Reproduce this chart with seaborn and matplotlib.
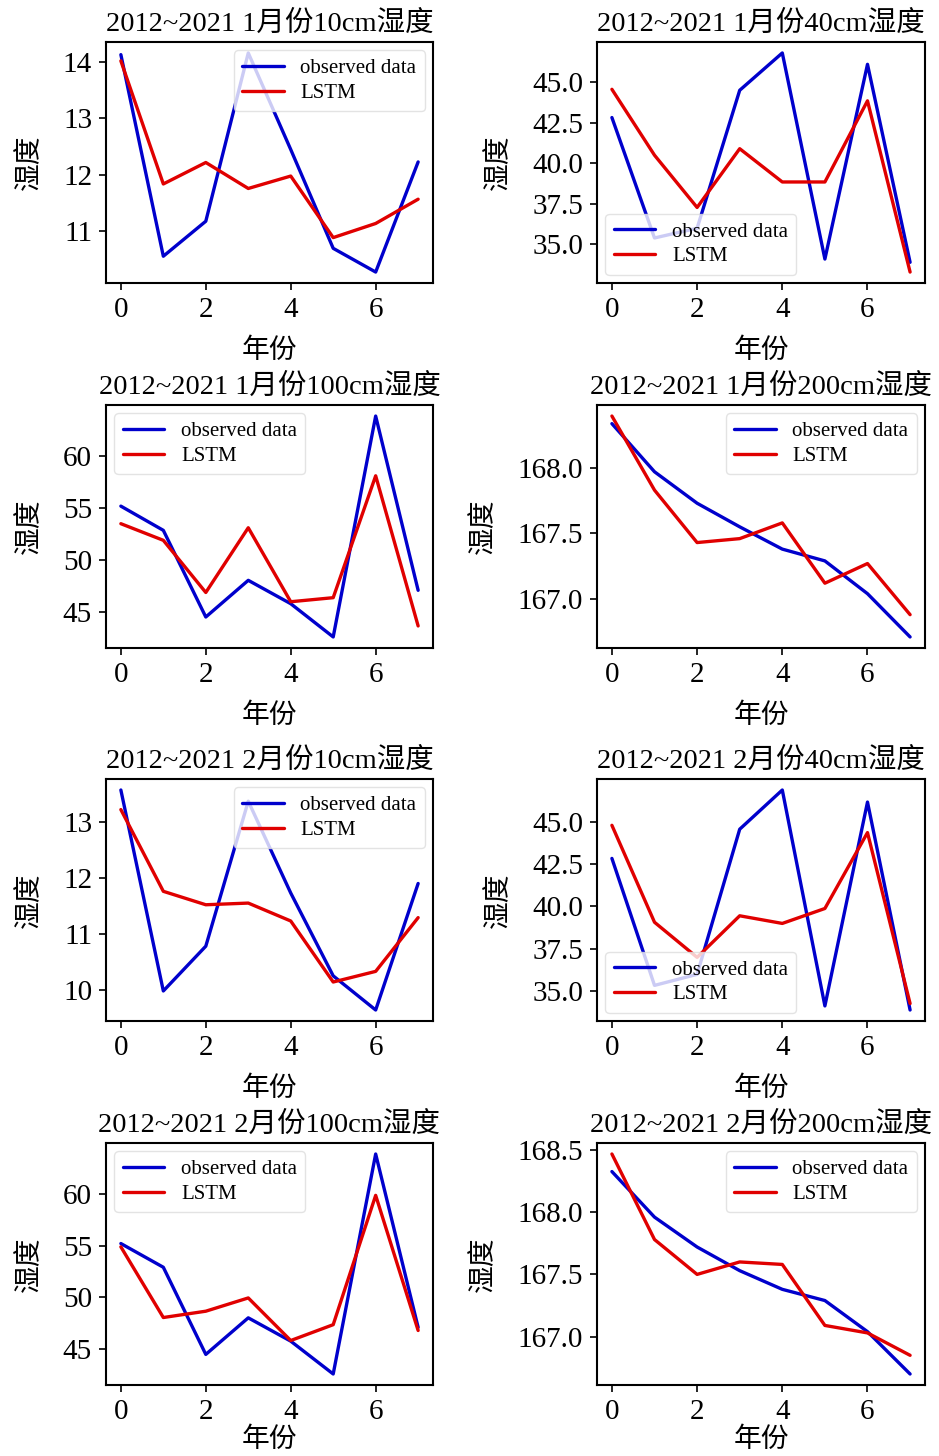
import numpy as np
import pandas as pd
import matplotlib
matplotlib.use("Agg")
import matplotlib.pyplot as plt
import seaborn as sns
from matplotlib.ticker import FormatStrFormatter

# ---------------- data ----------------
years = [0, 1, 2, 3, 4, 5, 6, 7]

titles = [
    "2012~2021 1月份10cm湿度", "2012~2021 1月份40cm湿度",
    "2012~2021 1月份100cm湿度", "2012~2021 1月份200cm湿度",
    "2012~2021 2月份10cm湿度", "2012~2021 2月份40cm湿度",
    "2012~2021 2月份100cm湿度", "2012~2021 2月份200cm湿度",
]

obs_jan_10 = [14.13, 10.56, 11.18, 14.16, 12.45, 10.70, 10.28, 12.23]
lstm_jan_10 = [14.02, 11.84, 12.22, 11.76, 11.98, 10.89, 11.14, 11.57]

obs_jan_40 = [42.82, 35.4, 36.0, 44.5, 46.8, 34.1, 46.1, 33.9]
lstm_jan_40 = [44.56, 40.5, 37.28, 40.9, 38.85, 38.85, 43.85, 33.3]

obs_jan_100 = [55.16, 52.83, 44.49, 48.02, 45.77, 42.57, 63.83, 47.06]
lstm_jan_100 = [53.47, 51.87, 46.85, 53.08, 45.96, 46.35, 58.08, 43.63]

obs_jan_200 = [168.337, 167.97, 167.73, 167.55, 167.38, 167.29, 167.04, 166.71]
lstm_jan_200 = [168.395, 167.83, 167.43, 167.46, 167.58, 167.12, 167.27, 166.88]

obs_feb_10 = [13.57, 9.98, 10.78, 13.37, 11.73, 10.25, 9.64, 11.90]
lstm_feb_10 = [13.22, 11.76, 11.52, 11.55, 11.23, 10.14, 10.33, 11.29]

obs_feb_40 = [42.83, 35.35, 36.0, 44.55, 46.86, 34.14, 46.15, 33.9]
lstm_feb_40 = [44.78, 39.07, 37.0, 39.45, 39.0, 39.88, 44.35, 34.28]

obs_feb_100 = [55.19, 52.9, 44.49, 48.02, 45.77, 42.6, 63.83, 47.1]
lstm_feb_100 = [54.87, 48.05, 48.66, 49.94, 45.83, 47.36, 59.84, 46.8]

obs_feb_200 = [168.326, 167.96, 167.72, 167.53, 167.38, 167.29, 167.04, 166.70]
lstm_feb_200 = [168.467, 167.78, 167.50, 167.60, 167.58, 167.09, 167.03, 166.85]

observed = [obs_jan_10, obs_jan_40, obs_jan_100, obs_jan_200,
            obs_feb_10, obs_feb_40, obs_feb_100, obs_feb_200]
lstm = [lstm_jan_10, lstm_jan_40, lstm_jan_100, lstm_jan_200,
        lstm_feb_10, lstm_feb_40, lstm_feb_100, lstm_feb_200]

xticks = [0, 2, 4, 6]
yticks_10_jan = [11, 12, 13, 14]
yticks_40 = [35.0, 37.5, 40.0, 42.5, 45.0]
yticks_100 = [45, 50, 55, 60]
yticks_200_jan = [167.0, 167.5, 168.0]
yticks_10_feb = [10, 11, 12, 13]
yticks_200_feb = [167.0, 167.5, 168.0, 168.5]
yticks = [yticks_10_jan, yticks_40, yticks_100, yticks_200_jan,
          yticks_10_feb, yticks_40, yticks_100, yticks_200_feb]
yfmt = ["%d", "%.1f", "%d", "%.1f", "%d", "%.1f", "%d", "%.1f"]

series_labels = ["observed data", "LSTM"]
legend_locs = ["upper right", "lower left", "upper left", "upper right",
               "upper right", "lower left", "upper left", "upper right"]
xlabel = "年份"
ylabel = "湿度"

# ---------------- style ----------------
sns.set_theme(style="ticks")
fam = ["Liberation Serif", "Noto Sans CJK SC", "DejaVu Sans"]
plt.rcParams["font.family"] = fam
plt.rcParams["text.color"] = "black"
plt.rcParams["axes.labelcolor"] = "black"
plt.rcParams["axes.edgecolor"] = "black"
plt.rcParams["axes.linewidth"] = 1.5
plt.rcParams["xtick.color"] = "black"
plt.rcParams["ytick.color"] = "black"
plt.rcParams["xtick.major.width"] = 1.2
plt.rcParams["ytick.major.width"] = 1.2
plt.rcParams["xtick.major.size"] = 5
plt.rcParams["ytick.major.size"] = 5

W, H = 939, 1456
fig = plt.figure(figsize=(W / 100, H / 100), dpi=100)

col_lr = [(106, 433), (597, 925)]
row_tb = [(42, 283), (405, 648), (779, 1021), (1143, 1385)]
xlabel_pads = [11, 11, 11, 1.5]

blue = "#0000CC"
red = "#E00000"

for i in range(8):
    r, c = divmod(i, 2)
    l, rr = col_lr[c]
    t, b = row_tb[r]
    ax = fig.add_axes([l / W, 1 - b / H, (rr - l) / W, (b - t) / H])
    df = pd.DataFrame({"year": years, "obs": observed[i], "lstm": lstm[i]})
    sns.lineplot(data=df, x="year", y="obs", ax=ax, color=blue, lw=2.4,
                 label=series_labels[0])
    sns.lineplot(data=df, x="year", y="lstm", ax=ax, color=red, lw=2.4,
                 label=series_labels[1])
    ax.set_xticks(xticks)
    ax.set_yticks(yticks[i])
    ax.yaxis.set_major_formatter(FormatStrFormatter(yfmt[i]))
    ax.tick_params(labelsize=21, direction="out", pad=5)
    ax.set_title(titles[i], fontsize=20.5, pad=8, color="black")
    ax.set_xlabel(xlabel, fontsize=20, labelpad=xlabel_pads[r])
    ax.set_ylabel(ylabel, fontsize=20, labelpad=14.5)
    for s in ax.spines.values():
        s.set_visible(True)
        s.set_color("black")
    leg = ax.legend(loc=legend_locs[i], fontsize=15, frameon=True,
                    handlelength=2.0, borderpad=0.4, labelspacing=0.25,
                    borderaxespad=0.4)
    leg.get_frame().set_edgecolor("#dddddd")

fig.savefig("out.png", dpi=100)
